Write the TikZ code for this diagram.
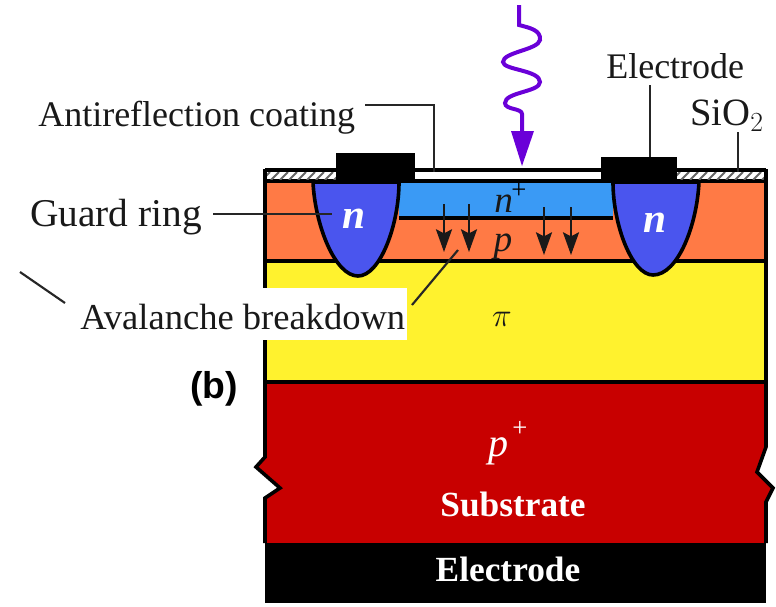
\documentclass[tikz,border=0pt]{standalone}
\usepackage{fontspec}
\setmainfont{Liberation Serif}
\setsansfont{Liberation Sans}
\usetikzlibrary{arrows.meta}
\definecolor{cred}{HTML}{C80000}
\definecolor{cyel}{HTML}{FFF22E}
\definecolor{cora}{HTML}{FF7A45}
\definecolor{cblu}{HTML}{3A9AF5}
\definecolor{cnn}{HTML}{4A55EE}
\definecolor{cpur}{HTML}{6A00D8}
\tikzset{
  edge/.style={line width=2.7pt,draw=black},
  leader/.style={line width=1.6pt,draw=black!85},
  lab/.style={font=\fontsize{27}{30}\selectfont,inner sep=0pt,text=black!90},
  inlab/.style={font=\fontsize{28}{30}\selectfont\itshape,inner sep=0pt,text=black!90},
  nlab/.style={font=\fontsize{31}{34}\selectfont\bfseries\itshape,inner sep=0pt,text=white,anchor=base},
  whitelab/.style={font=\fontsize{26.5}{30}\selectfont\bfseries,inner sep=0pt,text=white},
  downar/.style={line width=1.7pt,draw=black!90,-{Stealth[length=17pt,width=12pt,inset=3pt]}},
}
\begin{document}
\begin{tikzpicture}[x=0.75pt,y=-0.75pt]
\useasboundingbox (0,0) rectangle (776,607);
% layers
\fill[cred] (265,382) -- (766,382) -- (766,447) -- (757,472) -- (773,488) -- (766,502) -- (766,543) -- (265,543) -- (265,498) -- (280,488) -- (256,467) -- (265,457) -- cycle;
\draw[edge] (265,382) -- (265,457) -- (256,467) -- (280,488) -- (265,498) -- (265,543);
\draw[edge] (766,382) -- (766,447) -- (757,472) -- (773,488) -- (766,502) -- (766,543);
\fill[black] (265,543) rectangle (766,603);
\fill[cyel] (265,261) rectangle (766,382);
\fill[cora] (265,181) rectangle (766,261);
\fill[cblu] (399,182) rectangle (613,218);
\draw[edge] (399,218) -- (613,218);
\draw[edge] (265,261) -- (766,261);
\draw[edge] (265,382) -- (766,382);
\draw[edge] (265,181) -- (766,181);
% oxide
\fill[white] (265,171) rectangle (766,179);
\begin{scope}
\clip (267,172) rectangle (336,179);
\foreach \i in {0,...,8} \draw[line width=1.4pt,black!60] ({262+9*\i},180) -- ({270+9*\i},172);
\end{scope}
\begin{scope}
\clip (677,172) rectangle (764,179);
\foreach \i in {0,...,10} \draw[line width=1.4pt,black!60] ({672+9*\i},180) -- ({680+9*\i},172);
\end{scope}
\draw[edge] (265,170) -- (766,170);
\draw[edge] (265,169) -- (265,382);
\draw[edge] (766,169) -- (766,382);
% guard rings
\filldraw[edge,fill=cnn] (313,182) .. controls (315,225) and (335,276) .. (358,276) .. controls (380,276) and (399,225) .. (399,182) -- cycle;
\filldraw[edge,fill=cnn] (613,182) .. controls (613,225) and (632,275) .. (653,275) .. controls (678,275) and (697,225) .. (699,182) -- cycle;
% electrodes
\fill[black] (336,153) rectangle (415,182);
\fill[black] (601,157) rectangle (677,182);
% avalanche arrows
\draw[downar] (444,204) -- (444,252);
\draw[downar] (469,204) -- (469,252);
\draw[downar] (544,207) -- (544,255);
\draw[downar] (571,207) -- (571,255);
% light
\draw[line width=3pt,cpur] (519,5) -- (519,25) .. controls (530,28) and (541,30) .. (540,40) .. controls (538,50) and (503,52) .. (503,62) .. controls (503,70) and (540,70) .. (540,82) .. controls (540,92) and (505,92) .. (505,103) .. controls (505,110) and (522,108) .. (522,114) -- (522,132);
\fill[cpur] (511,131) -- (534,131) -- (522,166) -- cycle;
% label mask
\coordinate (av1) at (458,250);
\coordinate (av2) at (412,305);
\draw[leader] (av1) -- (av2);
\fill[white] (78,288) rectangle (407,340);
% labels
\node[lab,anchor=base west] (anti) at (38,126) {Antireflection coating};
\node[lab,font=\fontsize{29.5}{32}\selectfont,anchor=base west] (guard) at (30,226) {Guard ring};
\node[lab,font=\fontsize{27.4}{30}\selectfont,anchor=base west] (aval) at (80,329) {Avalanche breakdown};
\node[lab,anchor=base west] (elec) at (606,78) {Electrode};
\node[lab,font=\fontsize{29}{32}\selectfont,anchor=base west] (sio) at (690,125) {SiO$_2$};
\node[font=\sffamily\bfseries\fontsize{28}{30}\selectfont,inner sep=0pt,anchor=base] (b) at (214,398) {(b)};
\node[nlab] (n1) at (354,228) {n};
\node[nlab] (n2) at (655,232) {n};
\node[inlab,anchor=base west] (np) at (494,212) {n};
\node[font=\fontsize{20}{24}\selectfont,inner sep=0pt] (npp) at (519,191) {+};
\node[inlab,anchor=base] (pp) at (503,251) {p};
\node[inlab,font=\fontsize{30}{34}\selectfont\itshape,anchor=base] (pi) at (502,326) {$\pi$};
\node[inlab,font=\fontsize{30}{34}\selectfont\itshape,text=white,anchor=base] (psub) at (498,456) {p};
\node[font=\fontsize{20}{24}\selectfont,inner sep=0pt,text=white] (psubp) at (520,429) {+};
\node[whitelab,anchor=base] (sub) at (513,516) {Substrate};
\node[whitelab,anchor=base] (el2) at (508,581) {Electrode};
% leaders
\coordinate (a1) at (365,105);
\coordinate (a2) at (434,105);
\coordinate (a3) at (434,172);
\draw[leader] (a1) -- (a2) -- (a3);
\coordinate (g1) at (213,214);
\coordinate (g2) at (332,214);
\draw[leader] (g1) -- (g2);
\coordinate (e1) at (650,85);
\coordinate (e2) at (650,157);
\draw[leader] (e1) -- (e2);
\coordinate (s1) at (738,132);
\coordinate (s2) at (738,172);
\draw[leader] (s1) -- (s2);
\coordinate (t1) at (20,272);
\coordinate (t2) at (65,303);
\draw[leader] (t1) -- (t2);
\end{tikzpicture}
\end{document}
